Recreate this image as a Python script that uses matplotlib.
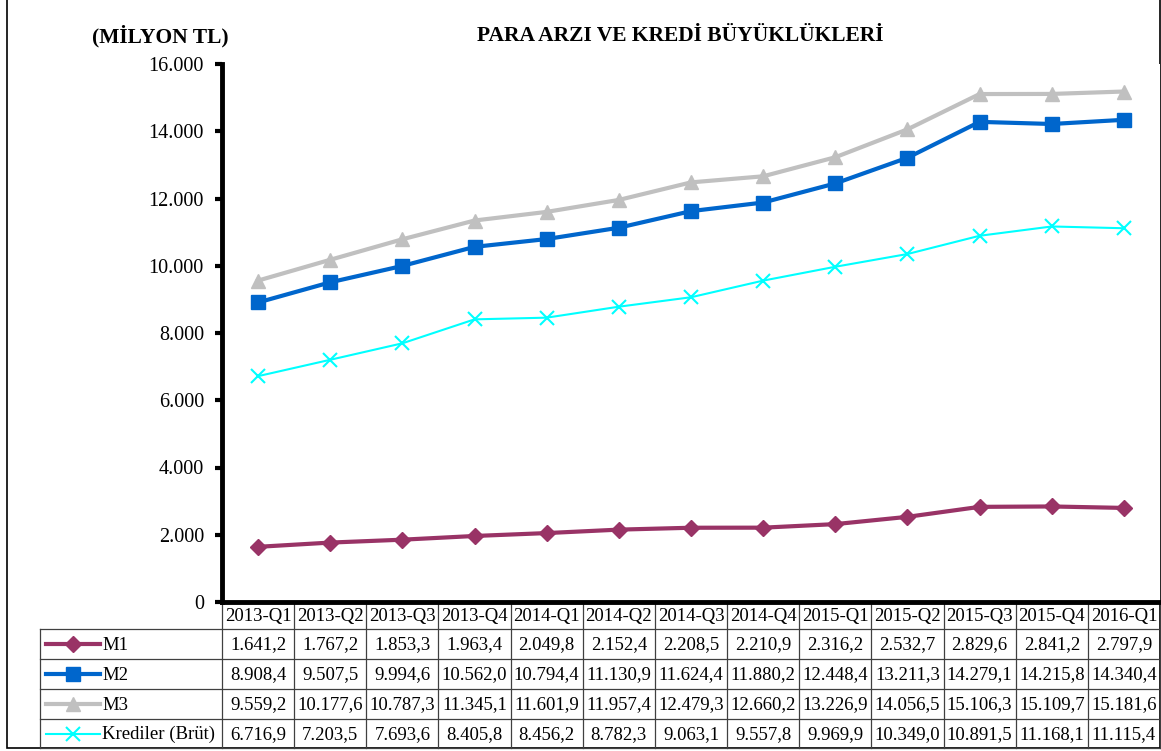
import numpy as np
import matplotlib.pyplot as plt
from matplotlib.ticker import FuncFormatter
from matplotlib.lines import Line2D
from matplotlib.patches import Rectangle

plt.rcParams['font.family'] = ['Liberation Serif', 'DejaVu Serif']

quarters = ['2013-Q1', '2013-Q2', '2013-Q3', '2013-Q4', '2014-Q1', '2014-Q2', '2014-Q3',
            '2014-Q4', '2015-Q1', '2015-Q2', '2015-Q3', '2015-Q4', '2016-Q1']
m1 = [1641.2, 1767.2, 1853.3, 1963.4, 2049.8, 2152.4, 2208.5, 2210.9, 2316.2, 2532.7, 2829.6, 2841.2, 2797.9]
m2 = [8908.4, 9507.5, 9994.6, 10562.0, 10794.4, 11130.9, 11624.4, 11880.2, 12448.4, 13211.3, 14279.1, 14215.8, 14340.4]
m3 = [9559.2, 10177.6, 10787.3, 11345.1, 11601.9, 11957.4, 12479.3, 12660.2, 13226.9, 14056.5, 15106.3, 15109.7, 15181.6]
krediler = [6716.9, 7203.5, 7693.6, 8405.8, 8456.2, 8782.3, 9063.1, 9557.8, 9969.9, 10349.0, 10891.5, 11168.1, 11115.4]

series = [
    ('M1', m1, dict(color='#993366', marker='D', markersize=8, lw=3)),
    ('M2', m2, dict(color='#0066CC', marker='s', markersize=10, lw=3)),
    ('M3', m3, dict(color='#C0C0C0', marker='^', markersize=10, lw=3)),
    ('Krediler (Brüt)', krediler, dict(color='#00FFFF', marker='x', markersize=10, lw=1.5, mew=1.5)),
]


def tr_num(v, dec=1):
    s = f"{v:,.{dec}f}"
    return s.replace(',', 'X').replace('.', ',').replace('X', '.')


W, H = 1161, 751
fig = plt.figure(figsize=(W / 100, H / 100), dpi=100)

# pixel layout
ax_l, ax_r, ax_t, ax_b = 222, 1160, 64, 602
ax = fig.add_axes([ax_l / W, 1 - ax_b / H, (ax_r - ax_l) / W, (ax_b - ax_t) / H])

x = np.arange(len(quarters))
for name, vals, st in series:
    ax.plot(x, vals, label=name, **st)

ax.set_xlim(-0.5, len(quarters) - 0.5)
ax.set_ylim(0, 16000)
ax.set_yticks(np.arange(0, 16001, 2000))
ax.yaxis.set_major_formatter(FuncFormatter(lambda v, p: tr_num(v, 0)))
ax.set_xticks([])
for s in ['top', 'right']:
    ax.spines[s].set_visible(False)
for s in ['left', 'bottom']:
    ax.spines[s].set_linewidth(3.5)
ax.tick_params(axis='y', direction='out', length=5, width=3, labelsize=14.5, pad=8)

fig.text(160 / W, 1 - 36 / H, '(MİLYON TL)', fontsize=15.5, fontweight='bold', ha='center', va='center')
fig.text(680 / W, 1 - 36 / H, 'PARA ARZI VE KREDİ BÜYÜKLÜKLERİ', fontsize=15.5, fontweight='bold',
         ha='center', va='center')

# table drawn in pixel coordinates on an overlay axes
tab = fig.add_axes([0, 0, 1, 1], zorder=-1)
tab.set_xlim(0, W)
tab.set_ylim(H, 0)
tab.axis('off')

col_w = (ax_r - ax_l) / len(quarters)
row_y = [603, 629, 659, 689, 719, 748]
leg_l = 40
lc = '#404040'
fs = 13.5

# outer frame
tab.add_patch(Rectangle((7, -5), ax_r - 7, 748 + 5, fill=False, lw=1.2, ec='black'))

# header row
for i, q in enumerate(quarters):
    cx = ax_l + (i + 0.5) * col_w
    tab.text(cx, (row_y[0] + row_y[1]) / 2 + 1, q, ha='center', va='center', fontsize=fs)
for i in range(len(quarters) + 1):
    xx = ax_l + i * col_w
    tab.plot([xx, xx], [row_y[0], row_y[-1]], color=lc, lw=0.9)
tab.plot([leg_l, leg_l], [row_y[1], row_y[-1]], color=lc, lw=0.9)
for yy in row_y[1:]:
    tab.plot([leg_l, ax_r], [yy, yy], color=lc, lw=0.9)

for r, (name, vals, st) in enumerate(series):
    cy = (row_y[r + 1] + row_y[r + 2]) / 2
    tab.add_line(Line2D([46, 73, 100], [cy, cy, cy], markevery=[1], **st))
    tab.text(102, cy + 1, name, ha='left', va='center', fontsize=fs)
    for i, v in enumerate(vals):
        cx = ax_l + (i + 0.5) * col_w
        tab.text(cx, cy + 1, tr_num(v), ha='center', va='center', fontsize=fs)

fig.savefig('out.png', dpi=100)
